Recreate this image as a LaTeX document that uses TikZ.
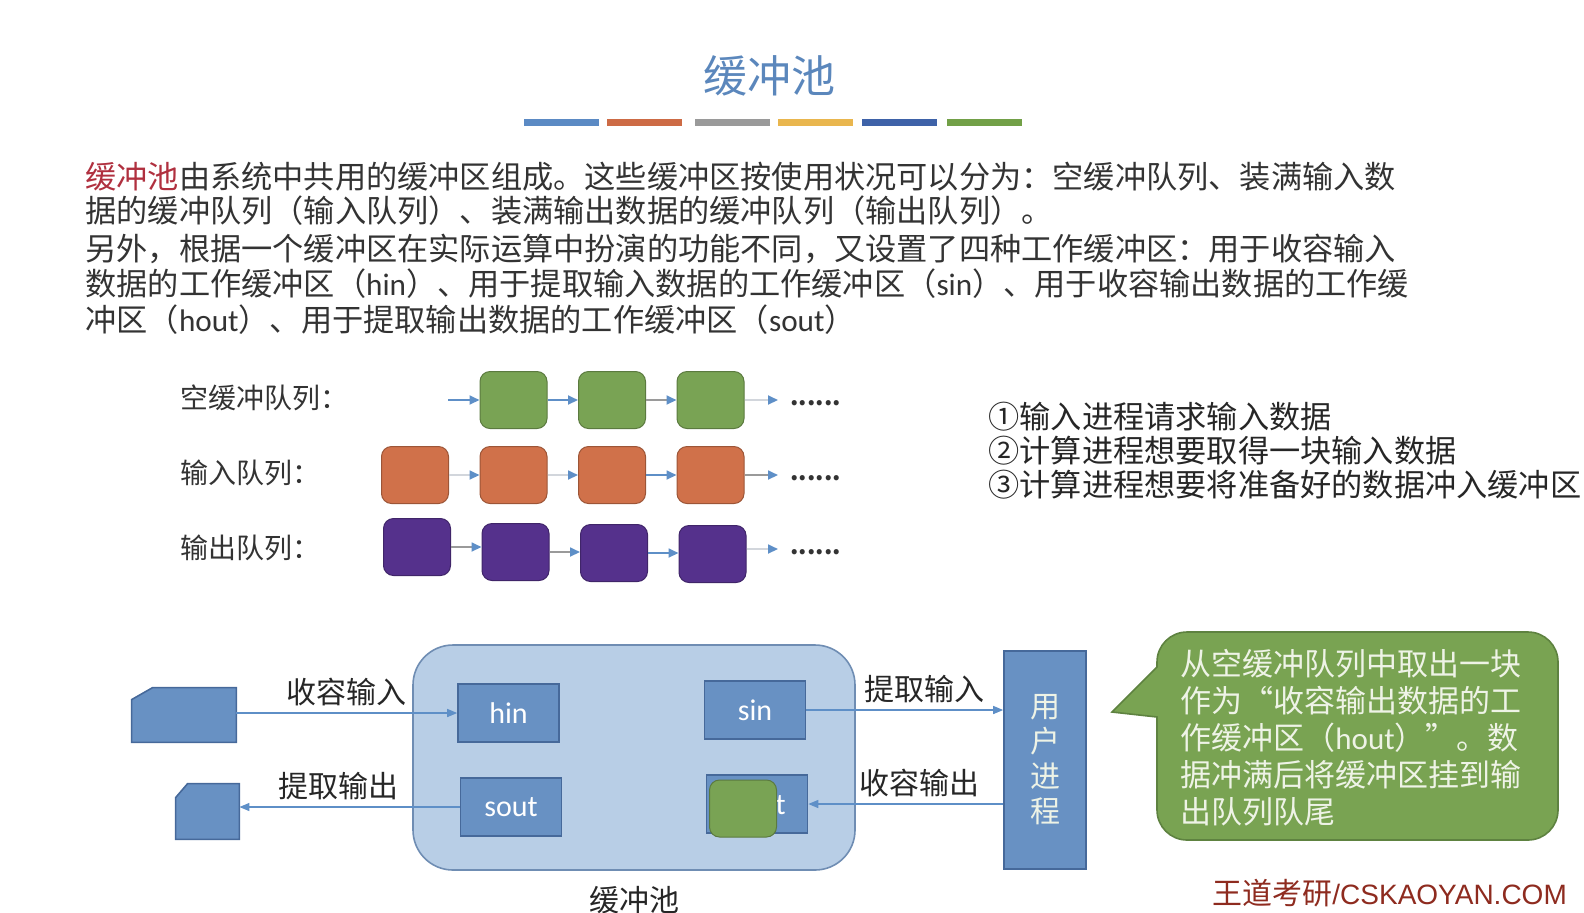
\documentclass[tikz,border=0pt]{standalone}
\usepackage{fontspec}
\setmainfont{Noto Sans CJK SC}
\newfontfamily\latinfont{Carlito}
\newfontfamily\wmfont{Liberation Sans}
\usepackage{tikz}
\usetikzlibrary{arrows.meta,positioning,calc}

\definecolor{titleblue}{HTML}{5B87BC}
\definecolor{textgray}{HTML}{333333}
\definecolor{poolred}{HTML}{B0303F}
\definecolor{barblue}{HTML}{5B8AC4}
\definecolor{barorange}{HTML}{CD6B45}
\definecolor{bargray}{HTML}{9A9A9A}
\definecolor{baryellow}{HTML}{E9B64E}
\definecolor{bardark}{HTML}{3E62A8}
\definecolor{bargreen}{HTML}{72A047}
\definecolor{qgreen}{HTML}{79A354}
\definecolor{qorange}{HTML}{D0714A}
\definecolor{qpurple}{HTML}{55318C}
\definecolor{qblue}{HTML}{5E8FC7}
\definecolor{qgray}{HTML}{9A9A9A}
\definecolor{qlight}{HTML}{D2D6DC}
\definecolor{boxblue}{HTML}{6891C3}
\definecolor{boxborder}{HTML}{46699A}
\definecolor{poolfill}{HTML}{B8CEE6}
\definecolor{poolborder}{HTML}{6F8DB3}
\definecolor{notefill}{HTML}{79A352}
\definecolor{noteborder}{HTML}{5E8240}
\definecolor{notetext}{HTML}{EEF3E6}
\definecolor{wmred}{HTML}{8E2B1F}

\tikzset{
  body/.style={anchor=west, inner sep=0pt, text=textgray, font=\fontsize{15.6}{15.6}\selectfont},
  qlabel/.style={anchor=west, inner sep=0pt, text=textgray, font=\fontsize{14}{14}\selectfont},
  qbox/.style={draw=#1!75!black, fill=#1, rounded corners=5pt, line width=.5pt,
    minimum width=33.5pt, minimum height=28.5pt, inner sep=0pt},
  qarrow/.style={draw=#1, line width=.9pt, -{Triangle[length=5pt,width=4.5pt,color=qblue]}},
  wbuf/.style={draw=boxborder, fill=boxblue, line width=.8pt, inner sep=0pt,
    minimum width=50.5pt, minimum height=29pt, text=white,
    font=\latinfont\fontsize{15}{15}\selectfont},
  devbox/.style={inner sep=0pt},
  devline/.style={draw=boxborder, fill=boxblue, line width=.8pt},
  parrow/.style={draw=qblue, line width=.7pt, -{Triangle[length=5pt,width=4pt]}},
  plabel/.style={font=\fontsize{15}{15}\selectfont, text=black!85}
}

\begin{document}
\begin{tikzpicture}[x=0.5pt,y=-0.5pt]
  \useasboundingbox (0,0) rectangle (1584,912);
  % title
  \node[text=titleblue, font=\fontsize{22}{22}\selectfont] (title) at (769,76) {缓冲池};
  \foreach \x/\c in {524/barblue,607/barorange,695/bargray,778/baryellow,862/bardark,947/bargreen} {
    \fill[\c] (\x,119) rectangle ++(75,7);
  }
  % text
  \node[body] (line1) at (85,177) {\textcolor{poolred}{缓冲池}由系统中共用的缓冲区组成。这些缓冲区按使用状况可以分为：空缓冲队列、装满输入数};
  \node[body] (line2) at (85,211) {据的缓冲队列（输入队列）、装满输出数据的缓冲队列（输出队列）。};
  \node[body] (line3) at (85,249) {另外，根据一个缓冲区在实际运算中扮演的功能不同，又设置了四种工作缓冲区：用于收容输入};
  \node[body] (line4) at (85,284) {数据的工作缓冲区（{\latinfont hin}）、用于提取输入数据的工作缓冲区（{\latinfont sin}）、用于收容输出数据的工作缓};
  \node[body] (line5) at (85,320) {冲区（{\latinfont hout}）、用于提取输出数据的工作缓冲区（{\latinfont sout}）};
  % queues
  \node[qlabel] (lempty) at (180,398) {空缓冲队列：};
  \node[qlabel] (lin) at (180,473) {输入队列：};
  \node[qlabel] (lout) at (180,548) {输出队列：};
  \foreach \i in {1,2,3} {
    \node[qbox=qgreen] (g\i) at ({415+98.5*\i},400) {};
  }
  \foreach \i in {1,...,4} {
    \node[qbox=qorange] (o\i) at ({415+98.5*(\i-1)},475) {};
  }
  \foreach \i/\y in {1/547,2/552,3/553,4/554} {
    \node[qbox=qpurple] (p\i) at ({417+98.5*(\i-1)},\y) {};
  }
  \coordinate (gin) at (448,400);
  \coordinate (gend) at (778,400);
  \coordinate (oend) at (778,475);
  \coordinate (pend) at (778,549);
  \draw[qarrow=qblue] (gin) -- (g1);
  \foreach \a/\b/\c in {g1/g2/qblue,g2/g3/qgray,o1/o2/qlight,o2/o3/qlight,o3/o4/qblue,p1/p2/qgray,p2/p3/qgray,p3/p4/qblue} {
    \draw[qarrow=\c] (\a.east) -- (\a.east -| \b.west);
  }
  \draw[qarrow=qlight] (g3) -- (gend);
  \draw[qarrow=qgray] (o4) -- (oend);
  \draw[qarrow=qlight] (p4.east |- pend) -- (pend);
  \foreach \r/\y in {g/403,o/478,p/552} {
    \node[anchor=west, inner sep=0pt, font=\fontsize{12}{12}\selectfont\bfseries, text=textgray] (\r dots) at (790,\y) {......};
  }
  % steps
  \foreach \t [count=\i] in {①输入进程请求输入数据,②计算进程想要取得一块输入数据,③计算进程想要将准备好的数据冲入缓冲区} {
    \node[body, text=black!85] (step\i) at ({988},{417+34*(\i-1)}) {\t};
  }
  % buffer pool
  \node[draw=poolborder, fill=poolfill, line width=.8pt, rounded corners=20pt,
    minimum width=221pt, minimum height=112.5pt] (pool) at (634,757.5) {};
  \node[plabel, below=4pt of pool] (poollabel) {缓冲池};
  \node[wbuf] (hin) at (508.5,713) {hin};
  \node[wbuf] (sout) at (511,807) {sout};
  \node[wbuf] (sin) at (755,710) {sin};
  \node[wbuf] (hout) at (757,804) {hout};
  \node[qbox=qgreen, rounded corners=5pt] (gbuf) at (743,808.5) {};
  % devices and user process
  \node[devbox, minimum width=52pt, minimum height=27pt] (indev) at (184,715) {};
  \draw[devline] (indev.south west) -- ([yshift=-6pt]indev.north west) -- ([xshift=10.5pt]indev.north west)
    -- (indev.north east) -- (indev.south east) -- cycle;
  \node[devbox, minimum width=31.5pt, minimum height=27.5pt] (outdev) at (207.5,811.5) {};
  \draw[devline] (outdev.south west) -- ([yshift=-7pt]outdev.north west) -- ([xshift=6pt]outdev.north west)
    -- (outdev.north east) -- (outdev.south east) -- cycle;
  \node[draw=boxborder, fill=boxblue, line width=.8pt, minimum width=41pt, minimum height=109pt,
    align=center, text=notetext, font=\fontsize{15}{17.5}\selectfont] (user) at (1045,760) {用\\户\\进\\程};
  % connectors
  \draw[parrow] (hin.west -| indev.east) -- node[plabel, above] {收容输入} (hin.west);
  \draw[parrow] (sout.west) -- node[plabel, above, pos=.55] {提取输出} (sout.west -| outdev.east);
  \draw[parrow] (sin.east) -- node[plabel, above, pos=.6] {提取输入} (sin.east -| user.west);
  \draw[parrow] (hout.east -| user.west) -- node[plabel, above, pos=.43] {收容输出} (hout.east);
  % note
  \draw[fill=notefill, draw=noteborder, line width=.8pt] (1157,667) [rounded corners=15pt] -- (1157,632) -- (1558,632)
    -- (1558,840) -- (1157,840) [sharp corners] -- (1157,717) -- (1112,712) -- cycle;
  \node[anchor=north west, inner sep=0pt, align=left, text=notetext,
    font=\fontsize{15.5}{18.5}\selectfont] (note) at (1180,649)
    {从空缓冲队列中取出一块\\作为“收容输出数据的工\\作缓冲区（{\latinfont hout}）”。数\\据冲满后将缓冲区挂到输\\出队列队尾};
  % watermark
  \node[anchor=west, inner sep=0pt, text=wmred, font=\fontsize{15}{15}\selectfont] (mark) at (1212,893)
    {王道考研{\wmfont\fontsize{14}{14}\selectfont /CSKAOYAN.COM}};
\end{tikzpicture}
\end{document}
